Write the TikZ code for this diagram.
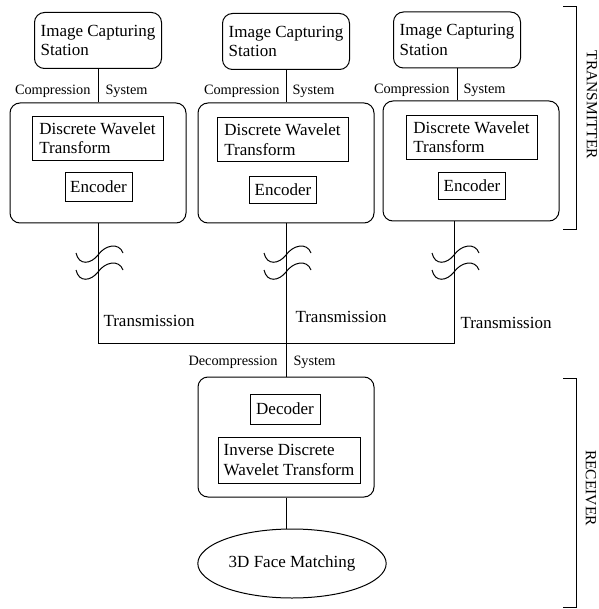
\documentclass[tikz,border=0pt]{standalone}
\usepackage{fontspec}
\setmainfont{Liberation Serif}
\usepackage{tikz}
\usetikzlibrary{shapes.geometric}

\newcommand{\bigtxt}{\fontsize{17}{19.5}\selectfont}
\newcommand{\smalltxt}{\fontsize{14.3}{16}\selectfont}
\newcommand{\sidetxt}{\fontsize{15.5}{17}\selectfont}

\tikzset{
  station/.style={draw, rounded corners=10pt, align=left, font=\bigtxt,
    minimum width=127pt, minimum height=56pt, inner sep=0pt},
  sysbox/.style={draw, rounded corners=10pt, minimum width=176pt, minimum height=120pt},
  inbox/.style={draw, line width=0.9pt, align=left, font=\bigtxt, inner sep=0pt},
  lbl/.style={font=\smalltxt, inner sep=0pt},
  trlbl/.style={font=\bigtxt, inner sep=0pt, anchor=west},
  sidelbl/.style={font=\sidetxt, rotate=-90, inner sep=0pt},
  breakmark/.pic={\draw (-22,-2) .. controls (-19,11) and (-7,9) .. (0,0)
    .. controls (7,-10) and (21,-13) .. (25,-2);}
}

\begin{document}
\begin{tikzpicture}[x=1pt,y=-1pt,line width=1pt]
    \useasboundingbox (0,0) rectangle (598,609);

    % Image capturing stations
    \node[station] (ics1) at (98,40.5) {Image Capturing\\Station};
    \node[station] (ics2) at (286,41.5) {Image Capturing\\Station};
    \node[station] (ics3) at (457,40) {Image Capturing\\Station};

    % Compression systems
    \node[sysbox] (cs1) at (98,163) {};
    \node[sysbox] (cs2) at (286,163) {};
    \node[sysbox] (cs3) at (471,161) {};

    \node[inbox, minimum width=131pt, minimum height=44pt] (dwt1) at (97.5,138) {Discrete Wavelet\\Transform};
    \node[inbox, minimum width=131pt, minimum height=44pt] (dwt2) at (282.5,139.5) {Discrete Wavelet\\Transform};
    \node[inbox, minimum width=131pt, minimum height=44pt] (dwt3) at (471.5,137) {Discrete Wavelet\\Transform};

    \node[inbox, minimum width=67pt, minimum height=29pt] (enc1) at (98.5,187) {Encoder};
    \node[inbox, minimum width=67pt, minimum height=27pt] (enc2) at (283,189.5) {Encoder};
    \node[inbox, minimum width=67pt, minimum height=27pt] (enc3) at (472,186) {Encoder};

    % Station to compression system
    \draw (ics1.south) -- (ics1.south |- cs1.north);
    \draw (ics2.south) -- (ics2.south |- cs2.north);
    \draw (ics3.south) -- (ics3.south |- cs3.north);

    \node[lbl, anchor=east] (cmp1) at (91,91) {Compression};
    \node[lbl, anchor=west] (sys1) at (105,91) {System};
    \node[lbl, anchor=east] (cmp2) at (280,91) {Compression};
    \node[lbl, anchor=west] (sys2) at (292,91) {System};
    \node[lbl, anchor=east] (cmp3) at (450,90) {Compression};
    \node[lbl, anchor=west] (sys3) at (463,90) {System};

    % Decompression system
    \node[sysbox] (dcs) at (286,437) {};
    \node[inbox, minimum width=70pt, minimum height=30pt] (dec) at (285,409) {Decoder};
    \node[inbox, minimum width=142pt, minimum height=46pt] (idwt) at (289,460) {Inverse Discrete\\Wavelet Transform};
    \node[draw, ellipse, font=\bigtxt, minimum width=161pt, minimum height=69pt] (match) at (292,563.5) {3D Face Matching};

    \node[lbl, anchor=east] (dcmp) at (278,362) {Decompression};
    \node[lbl, anchor=west] (dsys) at (293,362) {System};

    % Transmission lines
    \coordinate (j1) at (98,343);
    \coordinate (j3) at (454,343);
    \draw (cs1.south) -- (j1) -- (j3) -- (cs3.south -| j3);
    \draw (cs2.south) -- (dcs.north);
    \draw (dcs.south) -- (dcs.south |- match.north);

    \foreach \lx in {98,286,454} {
      \pic at (\lx,255) {breakmark};
      \pic at (\lx,272) {breakmark};
    }

    \node[trlbl] (tr1) at (103,321) {Transmission};
    \node[trlbl] (tr2) at (295,317) {Transmission};
    \node[trlbl] (tr3) at (460,323) {Transmission};

    % Side brackets
    \draw (563,7) -- (576,7) -- (576,230) -- (563,230);
    \node[sidelbl] (txlbl) at (592,105) {TRANSMITTER};
    \draw (563,378) -- (576,378) -- (576,607.5) -- (563,607.5);
    \node[sidelbl] (rxlbl) at (591,488) {RECEIVER};
\end{tikzpicture}
\end{document}
